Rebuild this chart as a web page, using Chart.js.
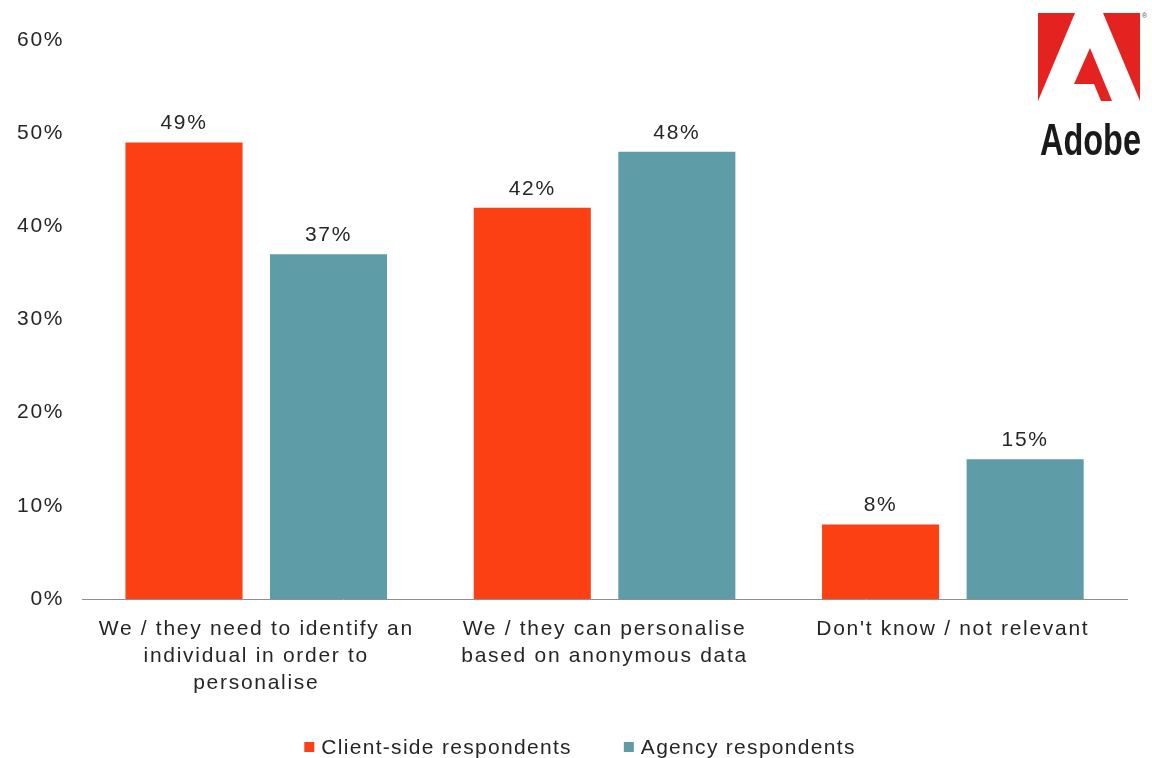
<!DOCTYPE html>
<html>
<head>
<meta charset="utf-8">
<script src="https://cdn.jsdelivr.net/npm/chart.js@4/dist/chart.umd.min.js"></script>
<style>
  html, body { margin: 0; padding: 0; background: #ffffff; }
  #wrap { width: 1152px; height: 758px; }
</style>
</head>
<body>
<div id="wrap"><canvas id="chart" width="1152" height="758"></canvas></div>
<script>
// Survey answers: how personalisation relates to identifying individuals
const categories = [
  ['We / they need to identify an', 'individual in order to', 'personalise'],
  ['We / they can personalise', 'based on anonymous data'],
  ["Don't know / not relevant"]
];
const clientSide = [49, 42, 8];
const agency = [37, 48, 15];
const seriesNames = ['Client-side respondents', 'Agency respondents'];
const seriesColors = ['#FD4014', '#5E9DA7'];
const yTickValues = [0, 10, 20, 30, 40, 50, 60];

const FONT = "'Liberation Sans', Arial, Helvetica, sans-serif";
const TEXT = '#262626';
const SIZE = 21;
const SPACING = '1.7px';

Chart.defaults.font.family = FONT;
Chart.defaults.font.size = SIZE;
Chart.defaults.color = TEXT;

// Slightly open tracking for every piece of chart text
const tracking = {
  id: 'tracking',
  beforeLayout(chart) { chart.ctx.letterSpacing = SPACING; },
  beforeDraw(chart) { chart.ctx.letterSpacing = SPACING; }
};

// Percent labels above each bar
const valueLabels = {
  id: 'valueLabels',
  afterDatasetsDraw(chart) {
    const ctx = chart.ctx;
    ctx.save();
    ctx.letterSpacing = SPACING;
    ctx.font = SIZE + 'px ' + FONT;
    ctx.fillStyle = TEXT;
    ctx.textAlign = 'center';
    ctx.textBaseline = 'alphabetic';
    chart.data.datasets.forEach((ds, di) => {
      const meta = chart.getDatasetMeta(di);
      meta.data.forEach((bar, i) => {
        ctx.fillText(ds.data[i] + '%', bar.x, bar.y - 13);
      });
    });
    ctx.restore();
  }
};

// Legend row under the category labels
const bottomLegend = {
  id: 'bottomLegend',
  afterDraw(chart) {
    const ctx = chart.ctx;
    ctx.save();
    ctx.letterSpacing = '1.3px';
    ctx.font = SIZE + 'px ' + FONT;
    const box = 10, gap = 7, between = 52;
    const items = chart.data.datasets.map(ds => ({
      text: ds.label, color: ds.backgroundColor, w: ctx.measureText(ds.label).width
    }));
    let total = 0;
    items.forEach((it, i) => { total += box + gap + it.w + (i ? between : 0); });
    let x = chart.width / 2 + 4 - total / 2;
    const cy = 747;
    items.forEach((it) => {
      ctx.fillStyle = it.color;
      ctx.fillRect(x, cy - box / 2, box, box);
      ctx.fillStyle = TEXT;
      ctx.textAlign = 'left';
      ctx.textBaseline = 'middle';
      ctx.fillText(it.text, x + box + gap, cy + 1);
      x += box + gap + it.w + between;
    });
    ctx.restore();
  }
};

// Brand mark in the top-right corner
const brandMark = {
  id: 'brandMark',
  afterDraw(chart) {
    const ctx = chart.ctx;
    ctx.save();
    ctx.letterSpacing = '0px';
    ctx.fillStyle = '#E42320';
    ctx.beginPath();
    ctx.moveTo(1038, 13); ctx.lineTo(1075, 13); ctx.lineTo(1038, 101); ctx.closePath();
    ctx.fill();
    ctx.beginPath();
    ctx.moveTo(1103, 13); ctx.lineTo(1140, 13); ctx.lineTo(1140, 101); ctx.closePath();
    ctx.fill();
    ctx.beginPath();
    ctx.moveTo(1090, 48); ctx.lineTo(1112, 101); ctx.lineTo(1101, 101);
    ctx.lineTo(1094, 84); ctx.lineTo(1074, 84); ctx.closePath();
    ctx.fill();
    // registered sign
    ctx.fillStyle = '#555';
    ctx.font = '7px ' + FONT;
    ctx.textAlign = 'left';
    ctx.textBaseline = 'middle';
    ctx.fillText('\u00AE', 1142, 16);
    // wordmark
    ctx.fillStyle = '#1a1a1a';
    ctx.font = 'bold 44px ' + FONT;
    const w = ctx.measureText('Adobe').width;
    ctx.translate(1040, 155);
    ctx.scale(101 / w, 1);
    ctx.textBaseline = 'alphabetic';
    ctx.fillText('Adobe', 0, 0);
    ctx.restore();
  }
};

new Chart(document.getElementById('chart'), {
  type: 'bar',
  data: {
    labels: categories,
    datasets: [
      { label: seriesNames[0], data: clientSide, backgroundColor: seriesColors[0] },
      { label: seriesNames[1], data: agency, backgroundColor: seriesColors[1] }
    ]
  },
  options: {
    responsive: false,
    animation: false,
    devicePixelRatio: 1,
    categoryPercentage: 0.83,
    barPercentage: 0.81,
    layout: { padding: { top: 40, right: 25, bottom: 44, left: -1 } },
    plugins: {
      legend: { display: false },
      tooltip: { enabled: false }
    },
    scales: {
      x: {
        grid: { display: false, drawTicks: false },
        border: { display: true, color: '#8f8f8f', width: 1 },
        ticks: {
          color: TEXT,
          font: { size: SIZE, lineHeight: 27 / SIZE },
          padding: 17,
          maxRotation: 0,
          autoSkip: false
        }
      },
      y: {
        min: yTickValues[0],
        max: yTickValues[yTickValues.length - 1],
        grid: { display: false, drawTicks: false },
        border: { display: false },
        afterBuildTicks(scale) { scale.ticks = yTickValues.map(v => ({ value: v })); },
        ticks: {
          color: TEXT,
          font: { size: SIZE },
          padding: 18,
          callback: v => v + '%'
        }
      }
    }
  },
  plugins: [tracking, valueLabels, bottomLegend, brandMark]
});
</script>
</body>
</html>
